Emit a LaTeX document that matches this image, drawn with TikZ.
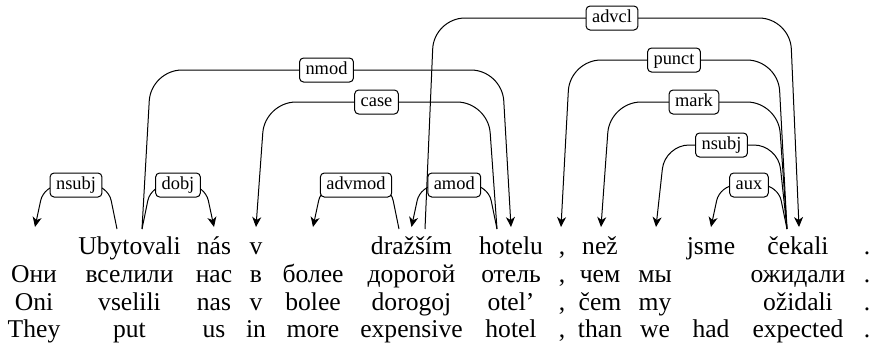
\documentclass[tikz,border=0pt]{standalone}
\usepackage{fontspec}
\setmainfont{Liberation Serif}
\newfontfamily\timesfam{Liberation Serif}
\usetikzlibrary{arrows.meta,calc}
\newcommand\depedge[7]{% #1 from, #2 to, #3 top y (px), #4 slant, #5 corner radius, #6 label, #7 label name
  \draw[depedge, rounded corners=#5] let \p1=(#1), \p2=(#2), \p3=(0,#3) in
    (\p1) -- ({\x1+(#4)}, \y3) -- ({\x2-(#4)}, \y3) -- (\p2);
  \path let \p1=(#1), \p2=(#2), \p3=(0,#3) in
    node[deplabel] (#7) at ({(\x1+\x2)/2}, \y3) {#6};
}
\begin{document}
\begin{tikzpicture}[x=0.5pt,y=-0.5pt,
  word/.style={anchor=base, inner sep=0pt, font=\timesfam\fontsize{12.8pt}{15pt}\selectfont},
  deplabel/.style={draw, fill=white, rounded corners=2pt, line width=0.5pt,
    inner xsep=3pt, inner ysep=1.9pt, text height=6.3pt, text depth=1.9pt,
    font=\timesfam\fontsize{9.2pt}{10pt}\selectfont},
  depedge/.style={line width=0.5pt, -{Stealth[length=5pt,width=4.5pt,inset=1.5pt]}},
]
\useasboundingbox (0,0) rectangle (873,345);

% Czech row
\coordinate (cz1) at (35,254);
\node[word] (cz2) at (129.5,254) {Ubytovali};
\node[word] (cz3) at (214,254) {nás};
\node[word] (cz4) at (256,254) {v};
\coordinate (cz5) at (313,254);
\node[word] (cz6) at (411.5,254) {dražším};
\node[word] (cz7) at (511,254) {hotelu};
\node[word] (cz8) at (562,254) {,};
\node[word] (cz9) at (600,254) {než};
\coordinate (cz10) at (656,254);
\node[word] (cz11) at (711,254) {jsme};
\node[word] (cz12) at (798,254) {čekali};
\node[word] (cz13) at (867,254) {.};

% Russian row
\node[word] (ru1) at (34,282) {Они};
\node[word] (ru2) at (129.5,282) {вселили};
\node[word] (ru3) at (214,282) {нас};
\node[word] (ru4) at (256,282) {в};
\node[word] (ru5) at (313,282) {более};
\node[word] (ru6) at (411.5,282) {дорогой};
\node[word] (ru7) at (511,282) {отель};
\node[word] (ru8) at (562,282) {,};
\node[word] (ru9) at (600,282) {чем};
\node[word] (ru10) at (655,282) {мы};
\node[word] (ru12) at (798,282) {ожидали};
\node[word] (ru13) at (867,282) {.};

% Transliteration row
\node[word] (tr1) at (34,310) {Oni};
\node[word] (tr2) at (129.5,310) {vselili};
\node[word] (tr3) at (214,310) {nas};
\node[word] (tr4) at (256,310) {v};
\node[word] (tr5) at (313,310) {bolee};
\node[word] (tr6) at (411.5,310) {dorogoj};
\node[word] (tr7) at (511,310) {otel’};
\node[word] (tr8) at (562,310) {,};
\node[word] (tr9) at (600,310) {čem};
\node[word] (tr10) at (655,310) {my};
\node[word] (tr12) at (798,310) {ožidali};
\node[word] (tr13) at (867,310) {.};

% English row
\node[word] (en1) at (34,337) {They};
\node[word] (en2) at (129.5,337) {put};
\node[word] (en3) at (214,337) {us};
\node[word] (en4) at (256,337) {in};
\node[word] (en5) at (313,337) {more};
\node[word] (en6) at (411.5,337) {expensive};
\node[word] (en7) at (511,337) {hotel};
\node[word] (en8) at (562,337) {,};
\node[word] (en9) at (600,337) {than};
\node[word] (en10) at (655,337) {we};
\node[word] (en11) at (711,337) {had};
\node[word] (en12) at (798,337) {expected};
\node[word] (en13) at (867,337) {.};

% edge start points
\coordinate (ubL) at ($(cz2.base)+(-12.5,-25)$);
\coordinate (ubR) at ($(cz2.base)+(12.5,-25)$);
\coordinate (drL) at ($(cz6.base)+(-12.5,-25)$);
\coordinate (drR) at ($(cz6.base)+(13.5,-25)$);
\coordinate (hoL) at ($(cz7.base)+(-14,-25)$);
\coordinate (ceL) at ($(cz12.base)+(-11,-25)$);
% edge end points
\coordinate (t1) at ($(cz1)+(0,-27)$);
\coordinate (t3) at ($(cz3.base)+(0,-27)$);
\coordinate (t4) at ($(cz4.base)+(0,-27)$);
\coordinate (t5) at ($(cz5)+(0,-27)$);
\coordinate (t6) at ($(cz6.base)+(0,-27)$);
\coordinate (t7) at ($(cz7.base)+(0,-27)$);
\coordinate (t8) at ($(cz8.base)+(-1,-27)$);
\coordinate (t9) at ($(cz9.base)+(1,-27)$);
\coordinate (t10) at ($(cz10)+(0,-27)$);
\coordinate (t11) at ($(cz11.base)+(0,-27)$);
\coordinate (t12) at ($(cz12.base)+(1,-27)$);

\depedge{ubL}{t1}{185}{-4.5pt}{8pt}{nsubj}{l-nsubj1}
\depedge{ubR}{t3}{185}{4.5pt}{8pt}{dobj}{l-dobj}
\depedge{ubR}{t7}{70}{4.5pt}{15.5pt}{nmod}{l-nmod}
\depedge{hoL}{t4}{102}{-4.5pt}{15.5pt}{case}{l-case}
\depedge{drL}{t5}{185}{-4.5pt}{8pt}{advmod}{l-advmod}
\depedge{hoL}{t6}{185}{-4.5pt}{8pt}{amod}{l-amod}
\depedge{drR}{t12}{18}{4.5pt}{15.5pt}{advcl}{l-advcl}
\depedge{ceL}{t8}{60}{-4.5pt}{15.5pt}{punct}{l-punct}
\depedge{ceL}{t9}{102}{-4.5pt}{15.5pt}{mark}{l-mark}
\depedge{ceL}{t10}{145}{-4.5pt}{12pt}{nsubj}{l-nsubj2}
\depedge{ceL}{t11}{185}{-4.5pt}{8pt}{aux}{l-aux}
\end{tikzpicture}
\end{document}
